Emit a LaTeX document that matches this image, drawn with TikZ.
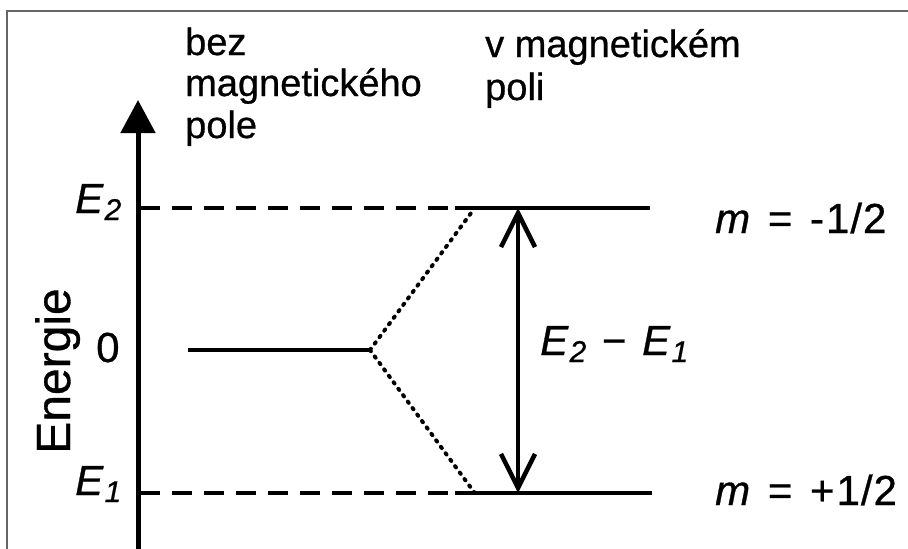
\documentclass[tikz,border=0pt]{standalone}
\usepackage{fontspec}
\setmainfont{Liberation Sans}[FakeBold=0.7]
\usetikzlibrary{arrows.meta}
\newcommand{\Esb}[1]{\textit{E}\kern1pt\raisebox{-7pt}{\fontsize{30}{31}\selectfont\textit{#1}}}
\tikzset{
  lbl/.style={inner sep=0pt, anchor=base west, font=\fontsize{42}{46}\selectfont},
  hdr/.style={inner sep=0pt, anchor=base west, font=\fontsize{38}{42}\selectfont},
  level/.style={line width=3.8pt},
  dashlevel/.style={line width=4pt, dash pattern=on 20pt off 12pt},
  dots/.style={line width=4pt, line cap=round, dash pattern=on 1.5pt off 6.5pt},
  frame/.style={draw=gray!80!black, line width=1.2pt}
}
\begin{document}
\begin{tikzpicture}[x=1pt,y=-1pt]
\useasboundingbox (0,0) rectangle (908,549);
% frame
\draw[frame] (7,549) -- (7,11) -- (908,11);
% coordinates
\coordinate (axb) at (138,549);
\coordinate (axt) at (138,100);
\coordinate (e2a) at (140,208);
\coordinate (e2b) at (455,208);
\coordinate (e2c) at (650,208);
\coordinate (e1a) at (140,493);
\coordinate (e1b) at (455,493);
\coordinate (e1c) at (652,493);
\coordinate (z0) at (188,350);
\coordinate (z1) at (370,350);
\coordinate (s2) at (474,209);
\coordinate (s1) at (474,492);
\coordinate (ar2) at (518,208);
\coordinate (ar1) at (518,493);
% axis
\draw[line width=5pt, -{Triangle[length=33pt,width=34pt]}] (axb) -- (axt);
% levels
\draw[dashlevel] (e2a) -- (e2b);
\draw[level] (e2b) -- (e2c);
\draw[dashlevel] (e1a) -- (e1b);
\draw[level] (e1b) -- (e1c);
\draw[level] (z0) -- (z1);
% splitting
\draw[dots] (z1) -- (s2);
\draw[dots] (z1) -- (s1);
% transition arrow
\draw[line width=4.5pt, {Straight Barb[length=34pt,width=34pt,line width=4.5pt]}-{Straight Barb[length=34pt,width=34pt,line width=4.5pt]}] (ar2) -- (ar1);
% labels
\node[hdr] (h1) at (185,55) {bez};
\node[hdr] (h2) at (185,96) {magnetického};
\node[hdr] (h3) at (185,138) {pole};
\node[hdr] (h4) at (485,57) {v magnetickém};
\node[hdr] (h5) at (485,100) {poli};
\node[lbl] (le2) at (75,213) {\Esb{2}};
\node[lbl] (le1) at (75,495) {\Esb{1}};
\node[lbl] (lz) at (96,362) {0};
\node[lbl] (ldiff) at (540,355) {\Esb{2}\hspace{4pt} −\hspace{4pt} \Esb{1}};
\node[lbl] (lm2) at (715,233) {\textit{m}\hspace{6pt} =\hspace{6pt} -\kern2pt 1\kern1pt/\kern1pt 2};
\node[lbl] (lm1) at (715,505) {\textit{m}\hspace{6pt} =\hspace{6pt} +\kern2pt 1\kern1pt/\kern1pt 2};
\node[inner sep=0pt, anchor=base, rotate=90, font=\fontsize{48}{50}\selectfont] (en) at (70,371) {Energie};
\end{tikzpicture}
\end{document}
